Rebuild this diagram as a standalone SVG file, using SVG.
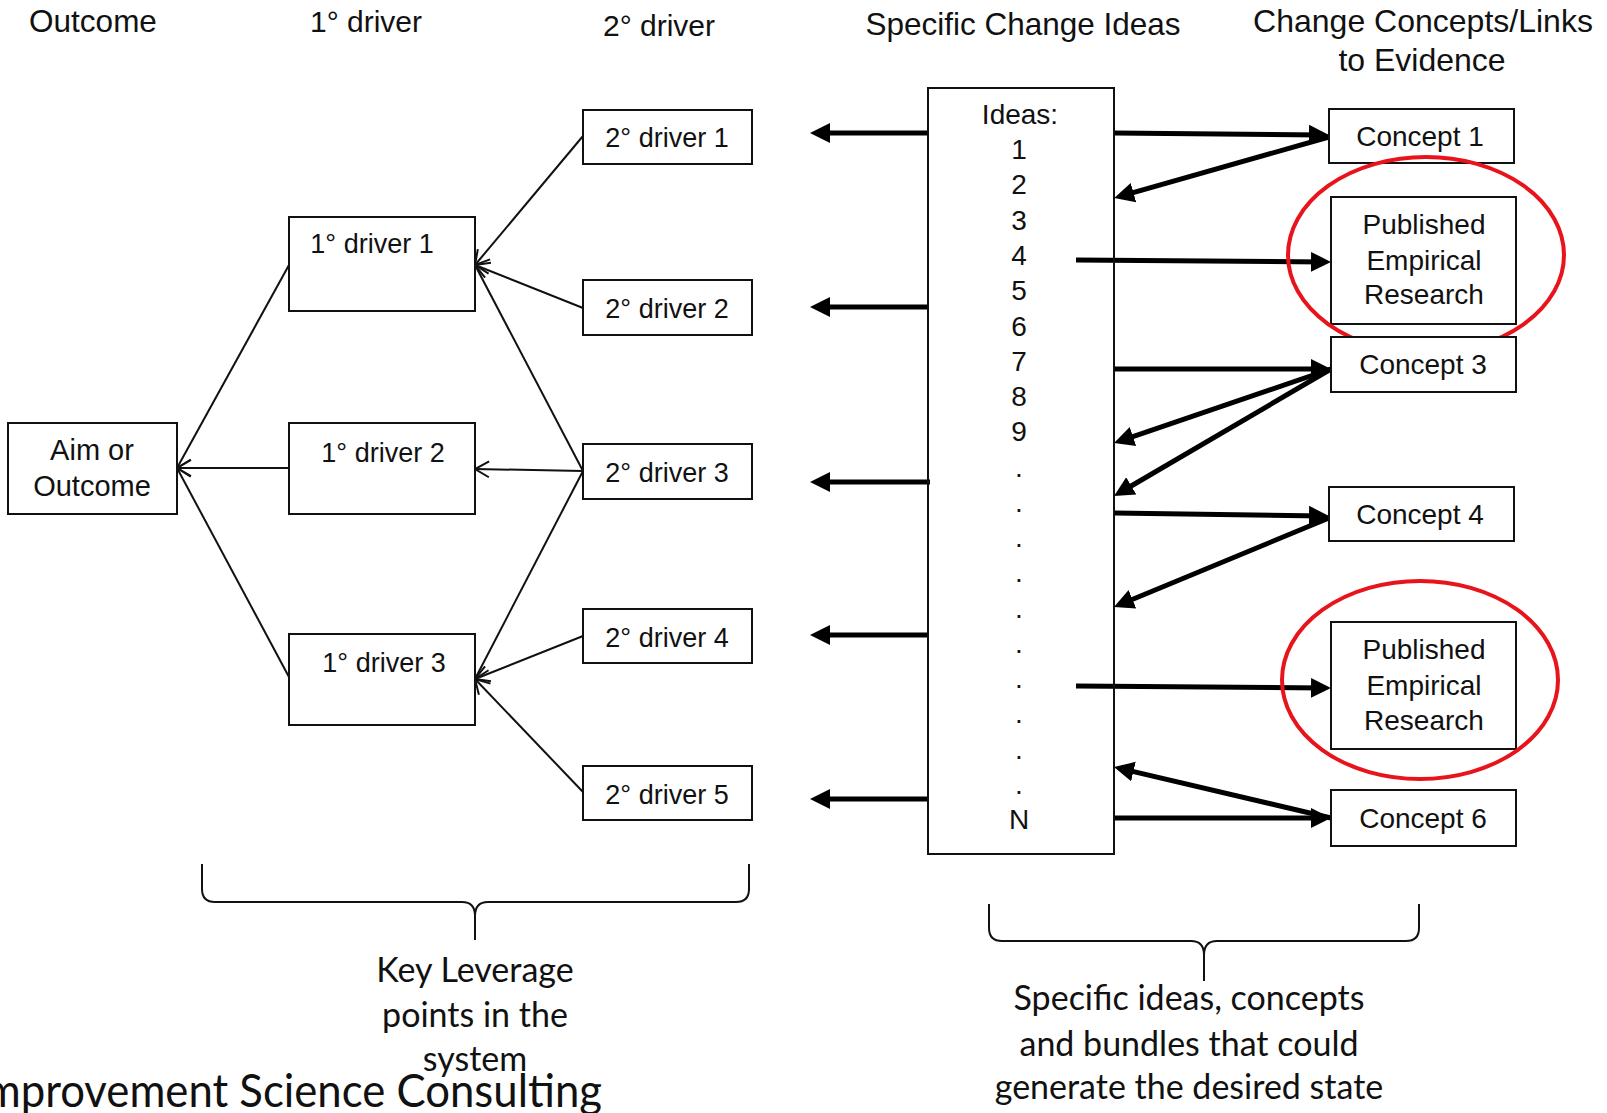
<svg xmlns="http://www.w3.org/2000/svg" width="1607" height="1113" viewBox="0 0 1607 1113">
<style>
  .hdr { font-family: "Liberation Sans", Arial, sans-serif; font-size: 31.5px; fill: #111; text-anchor: middle; }
  .lbl { font-family: "Liberation Sans", Arial, sans-serif; font-size: 28px; fill: #111; text-anchor: middle; }
  .drv { font-family: "Liberation Sans", Arial, sans-serif; font-size: 27px; fill: #111; text-anchor: middle; }
  .num { font-family: "Liberation Sans", Arial, sans-serif; font-size: 28px; fill: #111; text-anchor: middle; }
  .cal { font-family: Lato, "Open Sans", sans-serif; font-size: 34px; fill: #111; text-anchor: middle; }
  .box { fill: #fff; stroke: #111; stroke-width: 2; }
  .thin { stroke: #111; stroke-width: 2; fill: none; marker-end: url(#open); }
  .thick { stroke: #000; stroke-width: 5; fill: none; marker-end: url(#solid); }
  .ring { fill: none; stroke: #e8141b; stroke-width: 4; }
  .brace { fill: none; stroke: #111; stroke-width: 2; }
</style>
<defs>
  <marker id="open" markerUnits="userSpaceOnUse" markerWidth="24" markerHeight="24" viewBox="-2 -12 24 24" refX="18" refY="0" orient="auto">
    <path d="M4,-8 L18,0 L4,8" fill="none" stroke="#111" stroke-width="2"/>
  </marker>
  <marker id="solid" markerUnits="userSpaceOnUse" markerWidth="24" markerHeight="24" viewBox="0 -12 24 24" refX="14" refY="0" orient="auto">
    <path d="M0,-10 L20,0 L0,10 z" fill="#000"/>
  </marker>
</defs>
<rect width="1607" height="1113" fill="#fff"/>

<g id="headers">
  <text class="hdr" x="93" y="32">Outcome</text>
  <text class="hdr" x="366" y="32" style="font-size:30px">1° driver</text>
  <text class="hdr" x="659" y="36" style="font-size:30px">2° driver</text>
  <text class="hdr" x="1023" y="35">Specific Change Ideas</text>
  <text class="hdr" x="1423" y="32" style="font-size:32px">Change Concepts/Links</text>
  <text class="hdr" x="1422" y="71" style="font-size:32px">to Evidence</text>
</g>

<g id="connectors">
  <line class="thin" x1="289" y1="265" x2="177" y2="468"/>
  <line class="thin" x1="289" y1="468" x2="177" y2="468"/>
  <line class="thin" x1="289" y1="677" x2="177" y2="468"/>
  <line class="thin" x1="583" y1="136" x2="475" y2="265"/>
  <line class="thin" x1="583" y1="308" x2="475" y2="265"/>
  <line class="thin" x1="583" y1="471" x2="475" y2="265"/>
  <line class="thin" x1="583" y1="471" x2="475" y2="469"/>
  <line class="thin" x1="583" y1="471" x2="475" y2="679"/>
  <line class="thin" x1="583" y1="636" x2="475" y2="679"/>
  <line class="thin" x1="583" y1="792" x2="475" y2="679"/>

  <line class="thick" x1="928" y1="133" x2="816" y2="133"/>
  <line class="thick" x1="928" y1="307" x2="816" y2="307"/>
  <line class="thick" x1="930" y1="482" x2="816" y2="482"/>
  <line class="thick" x1="928" y1="635" x2="816" y2="635"/>
  <line class="thick" x1="928" y1="799" x2="816" y2="799"/>

  <line class="thick" x1="1114" y1="133" x2="1323" y2="135"/>
  <line class="thick" x1="1329" y1="137" x2="1120" y2="196.4"/>
  <line class="thick" x1="1076" y1="260" x2="1325" y2="262"/>
  <line class="thick" x1="1114" y1="369" x2="1325" y2="369"/>
  <line class="thick" x1="1331" y1="369" x2="1119.7" y2="441.1"/>
  <line class="thick" x1="1331" y1="369" x2="1119.2" y2="493"/>
  <line class="thick" x1="1114" y1="513" x2="1323" y2="516"/>
  <line class="thick" x1="1329" y1="518" x2="1119.5" y2="604.7"/>
  <line class="thick" x1="1076" y1="686" x2="1325" y2="688"/>
  <line class="thick" x1="1331" y1="818" x2="1119.8" y2="768.4"/>
  <line class="thick" x1="1114" y1="818" x2="1325" y2="818"/>
</g>

<g id="aim">
  <rect class="box" x="8" y="423" width="169" height="91"/>
  <text class="lbl" x="92" y="460" style="font-size:29px">Aim or</text>
  <text class="lbl" x="92" y="496" style="font-size:29px">Outcome</text>
</g>
<g id="p1">
  <rect class="box" x="289" y="217" width="186" height="94"/>
  <text class="drv" x="372" y="253">1° driver 1</text>
</g>
<g id="p2">
  <rect class="box" x="289" y="423" width="186" height="91"/>
  <text class="drv" x="383" y="462">1° driver 2</text>
</g>
<g id="p3">
  <rect class="box" x="289" y="634" width="186" height="91"/>
  <text class="drv" x="384" y="672">1° driver 3</text>
</g>
<g id="s1">
  <rect class="box" x="583" y="110" width="169" height="54"/>
  <text class="drv" x="667" y="147">2° driver 1</text>
</g>
<g id="s2">
  <rect class="box" x="583" y="280" width="169" height="55"/>
  <text class="drv" x="667" y="318">2° driver 2</text>
</g>
<g id="s3">
  <rect class="box" x="583" y="444" width="169" height="55"/>
  <text class="drv" x="667" y="482">2° driver 3</text>
</g>
<g id="s4">
  <rect class="box" x="583" y="609" width="169" height="54"/>
  <text class="drv" x="667" y="647">2° driver 4</text>
</g>
<g id="s5">
  <rect class="box" x="583" y="766" width="169" height="54"/>
  <text class="drv" x="667" y="804">2° driver 5</text>
</g>

<g id="ideas">
  <rect class="box" x="928" y="88" width="186" height="766" style="fill:none"/>
  <text class="num" x="1020" y="124">Ideas:</text>
  <text class="num" x="1019" y="159">1</text>
  <text class="num" x="1019" y="194">2</text>
  <text class="num" x="1019" y="230">3</text>
  <text class="num" x="1019" y="265">4</text>
  <text class="num" x="1019" y="300">5</text>
  <text class="num" x="1019" y="336">6</text>
  <text class="num" x="1019" y="371">7</text>
  <text class="num" x="1019" y="406">8</text>
  <text class="num" x="1019" y="441">9</text>
  <text class="num" x="1019" y="477">.</text>
  <text class="num" x="1019" y="512">.</text>
  <text class="num" x="1019" y="547">.</text>
  <text class="num" x="1019" y="582">.</text>
  <text class="num" x="1019" y="618">.</text>
  <text class="num" x="1019" y="653">.</text>
  <text class="num" x="1019" y="688">.</text>
  <text class="num" x="1019" y="723">.</text>
  <text class="num" x="1019" y="759">.</text>
  <text class="num" x="1019" y="794">.</text>
  <text class="num" x="1019" y="829">N</text>
</g>

<g id="c1">
  <rect class="box" x="1329" y="109" width="185" height="54"/>
  <text class="lbl" x="1420" y="146">Concept 1</text>
</g>
<g id="per1">
  <rect class="box" x="1331" y="197" width="185" height="127"/>
  <text class="lbl" x="1424" y="234">Published</text>
  <text class="lbl" x="1424" y="270">Empirical</text>
  <text class="lbl" x="1424" y="304">Research</text>
  <ellipse class="ring" cx="1426" cy="255" rx="138" ry="98"/>
</g>
<g id="c3">
  <rect class="box" x="1331" y="337" width="185" height="55"/>
  <text class="lbl" x="1423" y="374">Concept 3</text>
</g>
<g id="c4">
  <rect class="box" x="1329" y="487" width="185" height="54"/>
  <text class="lbl" x="1420" y="524">Concept 4</text>
</g>
<g id="per2">
  <rect class="box" x="1331" y="622" width="185" height="127"/>
  <text class="lbl" x="1424" y="659">Published</text>
  <text class="lbl" x="1424" y="695">Empirical</text>
  <text class="lbl" x="1424" y="730">Research</text>
  <ellipse class="ring" cx="1420" cy="680" rx="138" ry="99"/>
</g>
<g id="c6">
  <rect class="box" x="1331" y="790" width="185" height="56"/>
  <text class="lbl" x="1423" y="828">Concept 6</text>
</g>

<g id="brace-left">
  <path class="brace" d="M202,864 V889 Q202,902 215,902 H462 Q475,902 475,916 V940 M475,916 Q475,902 488,902 H736 Q749,902 749,889 V864"/>
  <text class="cal" x="475" y="982">Key Leverage</text>
  <text class="cal" x="475" y="1027">points in the</text>
  <text class="cal" x="475" y="1071">system</text>
</g>
<g id="brace-right">
  <path class="brace" d="M989,904 V928 Q989,941 1002,941 H1191 Q1204,941 1204,955 V981 M1204,955 Q1204,941 1217,941 H1406 Q1419,941 1419,928 V904"/>
  <text class="cal" x="1189" y="1010">Specific ideas, concepts</text>
  <text class="cal" x="1189" y="1056">and bundles that could</text>
  <text class="cal" x="1189" y="1099">generate the desired state</text>
</g>

<g id="footer">
  <text transform="translate(602,1107) scale(0.93,1)" x="0" y="0" style="font-family: Lato, 'Open Sans', sans-serif; font-size: 47px; fill: #111; text-anchor: end;">Improvement Science Consulting</text>
</g>
</svg>
